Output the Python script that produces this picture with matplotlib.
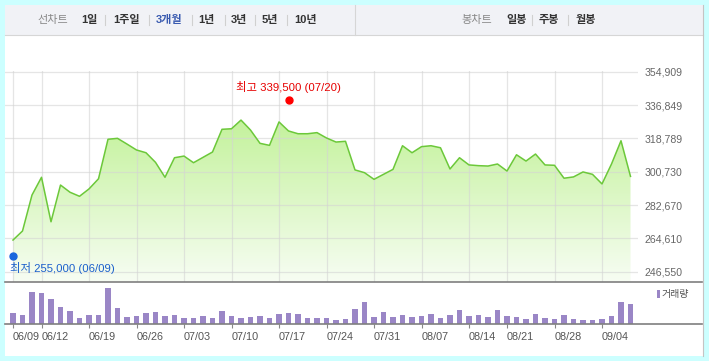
import matplotlib.pyplot as plt
import matplotlib.patches as patches
from matplotlib.lines import Line2D
from matplotlib.colors import LinearSegmentedColormap
import numpy as np

plt.rcParams['font.family'] = ['Liberation Sans', 'Noto Sans CJK KR']

# daily close (won), 06/09 ~ 09/09
close = [263700, 268600, 288100, 297700, 273600, 293500, 289600, 287400, 291400, 296900,
         318300, 318800, 315700, 312500, 311000, 305800, 297700, 308300, 309200, 305600,
         308500, 311400, 323700, 324000, 328700, 323300, 316100, 315000, 327700, 322800,
         321300, 321300, 321900, 319000, 316800, 317200, 301700, 300200, 296600, 299300,
         302000, 314800, 311000, 314300, 314800, 313700, 302200, 308300, 304400, 304000,
         303800, 304900, 301100, 309900, 306500, 310300, 304400, 304200, 297200, 297900,
         300600, 299300, 294100, 304900, 317500, 298200]

# daily volume (shares)
volume = [330000, 270000, 960000, 930000, 750000, 510000, 390000, 180000, 270000, 270000,
          1080000, 480000, 210000, 240000, 330000, 360000, 240000, 270000, 180000, 180000,
          240000, 180000, 390000, 240000, 180000, 210000, 240000, 180000, 300000, 330000,
          300000, 180000, 180000, 180000, 120000, 150000, 450000, 660000, 210000, 360000,
          210000, 270000, 210000, 240000, 300000, 180000, 270000, 420000, 240000, 270000,
          210000, 420000, 240000, 210000, 150000, 300000, 180000, 150000, 270000, 150000,
          120000, 120000, 150000, 240000, 660000, 600000]

tick_pos = [0, 3, 8, 13, 18, 23, 28, 33, 38, 43, 48, 52, 57, 62]
tick_labels = ['06/09', '06/12', '06/19', '06/26', '07/03', '07/10', '07/17',
               '07/24', '07/31', '08/07', '08/14', '08/21', '08/28', '09/04']
price_ticks = [246550, 264610, 282670, 300730, 318789, 336849, 354909]

high_idx, high_val, high_date = 29, 339500, '07/20'
low_idx, low_val, low_date = 0, 255000, '06/09'

menu_left = ['1일', '1주일', '3개월', '1년', '3년', '5년', '10년']
menu_right = ['일봉', '주봉', '월봉']

W, H = 709, 361


def fx(x):
    return x / W


def fy(y):
    return 1 - y / H


fig = plt.figure(figsize=(W / 100, H / 100), dpi=100, facecolor='#ccffff')

# white panel + header bar
fig.add_artist(patches.Rectangle((fx(5), fy(356)), fx(703) - fx(5), fy(5) - fy(356),
                                 transform=fig.transFigure, facecolor='white', edgecolor='none', zorder=0))
fig.add_artist(patches.Rectangle((fx(5), fy(35)), fx(703) - fx(5), fy(5) - fy(35),
                                 transform=fig.transFigure, facecolor='#f1f2f6', edgecolor='none', zorder=0))
fig.add_artist(Line2D([fx(5), fx(703)], [fy(35), fy(35)], color='#d6d6d6', lw=0.8))
fig.add_artist(Line2D([fx(355), fx(355)], [fy(5), fy(35)], color='#d6d6d6', lw=0.8))
fig.add_artist(Line2D([fx(702.5), fx(702.5)], [fy(5), fy(356)], color='#c4c4c4', lw=0.8))

# header menu
fig.text(fx(37), fy(20), '선차트', fontsize=8, color='#888888', va='center', ha='left')
lx = [81, 113, 156, 198, 231, 262, 294]
for x, t in zip(lx, menu_left):
    c = '#3a5bb0' if t == '3개월' else '#333333'
    fig.text(fx(x), fy(20), t, fontsize=8, color=c, fontweight='bold', va='center', ha='left')
for x in [105, 149, 192, 225, 255, 287]:
    fig.add_artist(Line2D([fx(x), fx(x)], [fy(15), fy(25)], color='#d0d0d0', lw=0.8))
fig.text(fx(461), fy(20), '봉차트', fontsize=8, color='#888888', va='center', ha='left')
for x, t in zip([506, 539, 576], menu_right):
    fig.text(fx(x), fy(20), t, fontsize=8, color='#333333', fontweight='bold', va='center', ha='left')
for x in [532, 568]:
    fig.add_artist(Line2D([fx(x), fx(x)], [fy(15), fy(25)], color='#d0d0d0', lw=0.8))

idx = np.arange(len(close))
x0, x1 = -8 / 9.5, (638 - 13) / 9.5

# price chart
ax = fig.add_axes([fx(5), fy(281.7), (638 - 5) / W, (281.7 - 71.2) / H])
ax.patch.set_alpha(0)
ybot = 246550 - 10 * 541.8
ytop = 354909 + 0.5 * 541.8

cmap = LinearSegmentedColormap.from_list('g', ['#f7fdf3', '#c4f29c'])
grad = np.linspace(0, 1, 256).reshape(-1, 1)
im = ax.imshow(grad, extent=[x0, x1, ybot, max(close)], origin='lower',
               aspect='auto', cmap=cmap, zorder=1)
verts = np.vstack([np.column_stack([idx, close]), [[idx[-1], ybot], [idx[0], ybot]]])
poly = patches.Polygon(verts, closed=True, facecolor='none', edgecolor='none')
ax.add_patch(poly)
im.set_clip_path(poly)

for t in tick_pos:
    ax.axvline(t, color='#d4d4d4', lw=0.9, alpha=0.6, zorder=2)
for v in price_ticks:
    ax.axhline(v, color='#d4d4d4', lw=0.9, alpha=0.6, zorder=2)

ax.plot(idx, close, color='#6cc83a', lw=1.1, zorder=3)

ax.plot(high_idx, high_val, 'o', color='#ff0000', ms=5, zorder=5, clip_on=False)
ax.annotate(f'최고 {high_val:,} ({high_date})', (high_idx, high_val), xytext=(0, 5.5),
            textcoords='offset points', ha='center', va='bottom', fontsize=8.2, color='#e60000')
ax.plot(low_idx, low_val, 'o', color='#1a66dd', ms=5, zorder=5, clip_on=False)
ax.annotate(f'최저 {low_val:,} ({low_date})', (low_idx, low_val), xytext=(-2.5, -4.5),
            textcoords='offset points', ha='left', va='top', fontsize=8.2, color='#1a5fcc')

ax.set_xlim(x0, x1)
ax.set_ylim(ybot, ytop)
ax.set_xticks([])
ax.set_yticks(price_ticks)
ax.set_yticklabels([f'{v:,}' for v in price_ticks])
ax.yaxis.tick_right()
ax.tick_params(axis='y', length=0, pad=5, labelsize=7.6, labelcolor='#666666')
for s in ax.spines.values():
    s.set_visible(False)

# volume chart
axv = fig.add_axes([fx(5), fy(324), (638 - 5) / W, (324 - 281.7) / H])
axv.patch.set_alpha(0)
axv.bar(idx, volume, width=0.53, color='#9a86c6', zorder=2)
axv.set_xlim(x0, x1)
axv.set_ylim(0, max(volume) * 42.3 / 36)
axv.set_yticks([])
axv.set_xticks(tick_pos)
axv.set_xticklabels(tick_labels)
for lbl in axv.get_xticklabels():
    lbl.set_ha('left')
axv.tick_params(axis='x', length=3, width=0.8, color='#888888', pad=2.5,
                labelsize=7.8, labelcolor='#555555')
for s in axv.spines.values():
    s.set_visible(False)

fig.add_artist(Line2D([fx(5), fx(702)], [fy(281.7), fy(281.7)], color='#7f7f7f', lw=1.2))
fig.add_artist(Line2D([fx(5), fx(702)], [fy(324), fy(324)], color='#7f7f7f', lw=1.2))

# volume legend
fig.add_artist(patches.Rectangle((fx(656.5), fy(298)), 3 / W, 8 / H, transform=fig.transFigure,
                                 facecolor='#9a86c6', edgecolor='none'))
fig.text(fx(661.5), fy(294), '거래량', fontsize=7.2, color='#555555', va='center', ha='left')

fig.savefig('out.png', dpi=100, facecolor=fig.get_facecolor())
